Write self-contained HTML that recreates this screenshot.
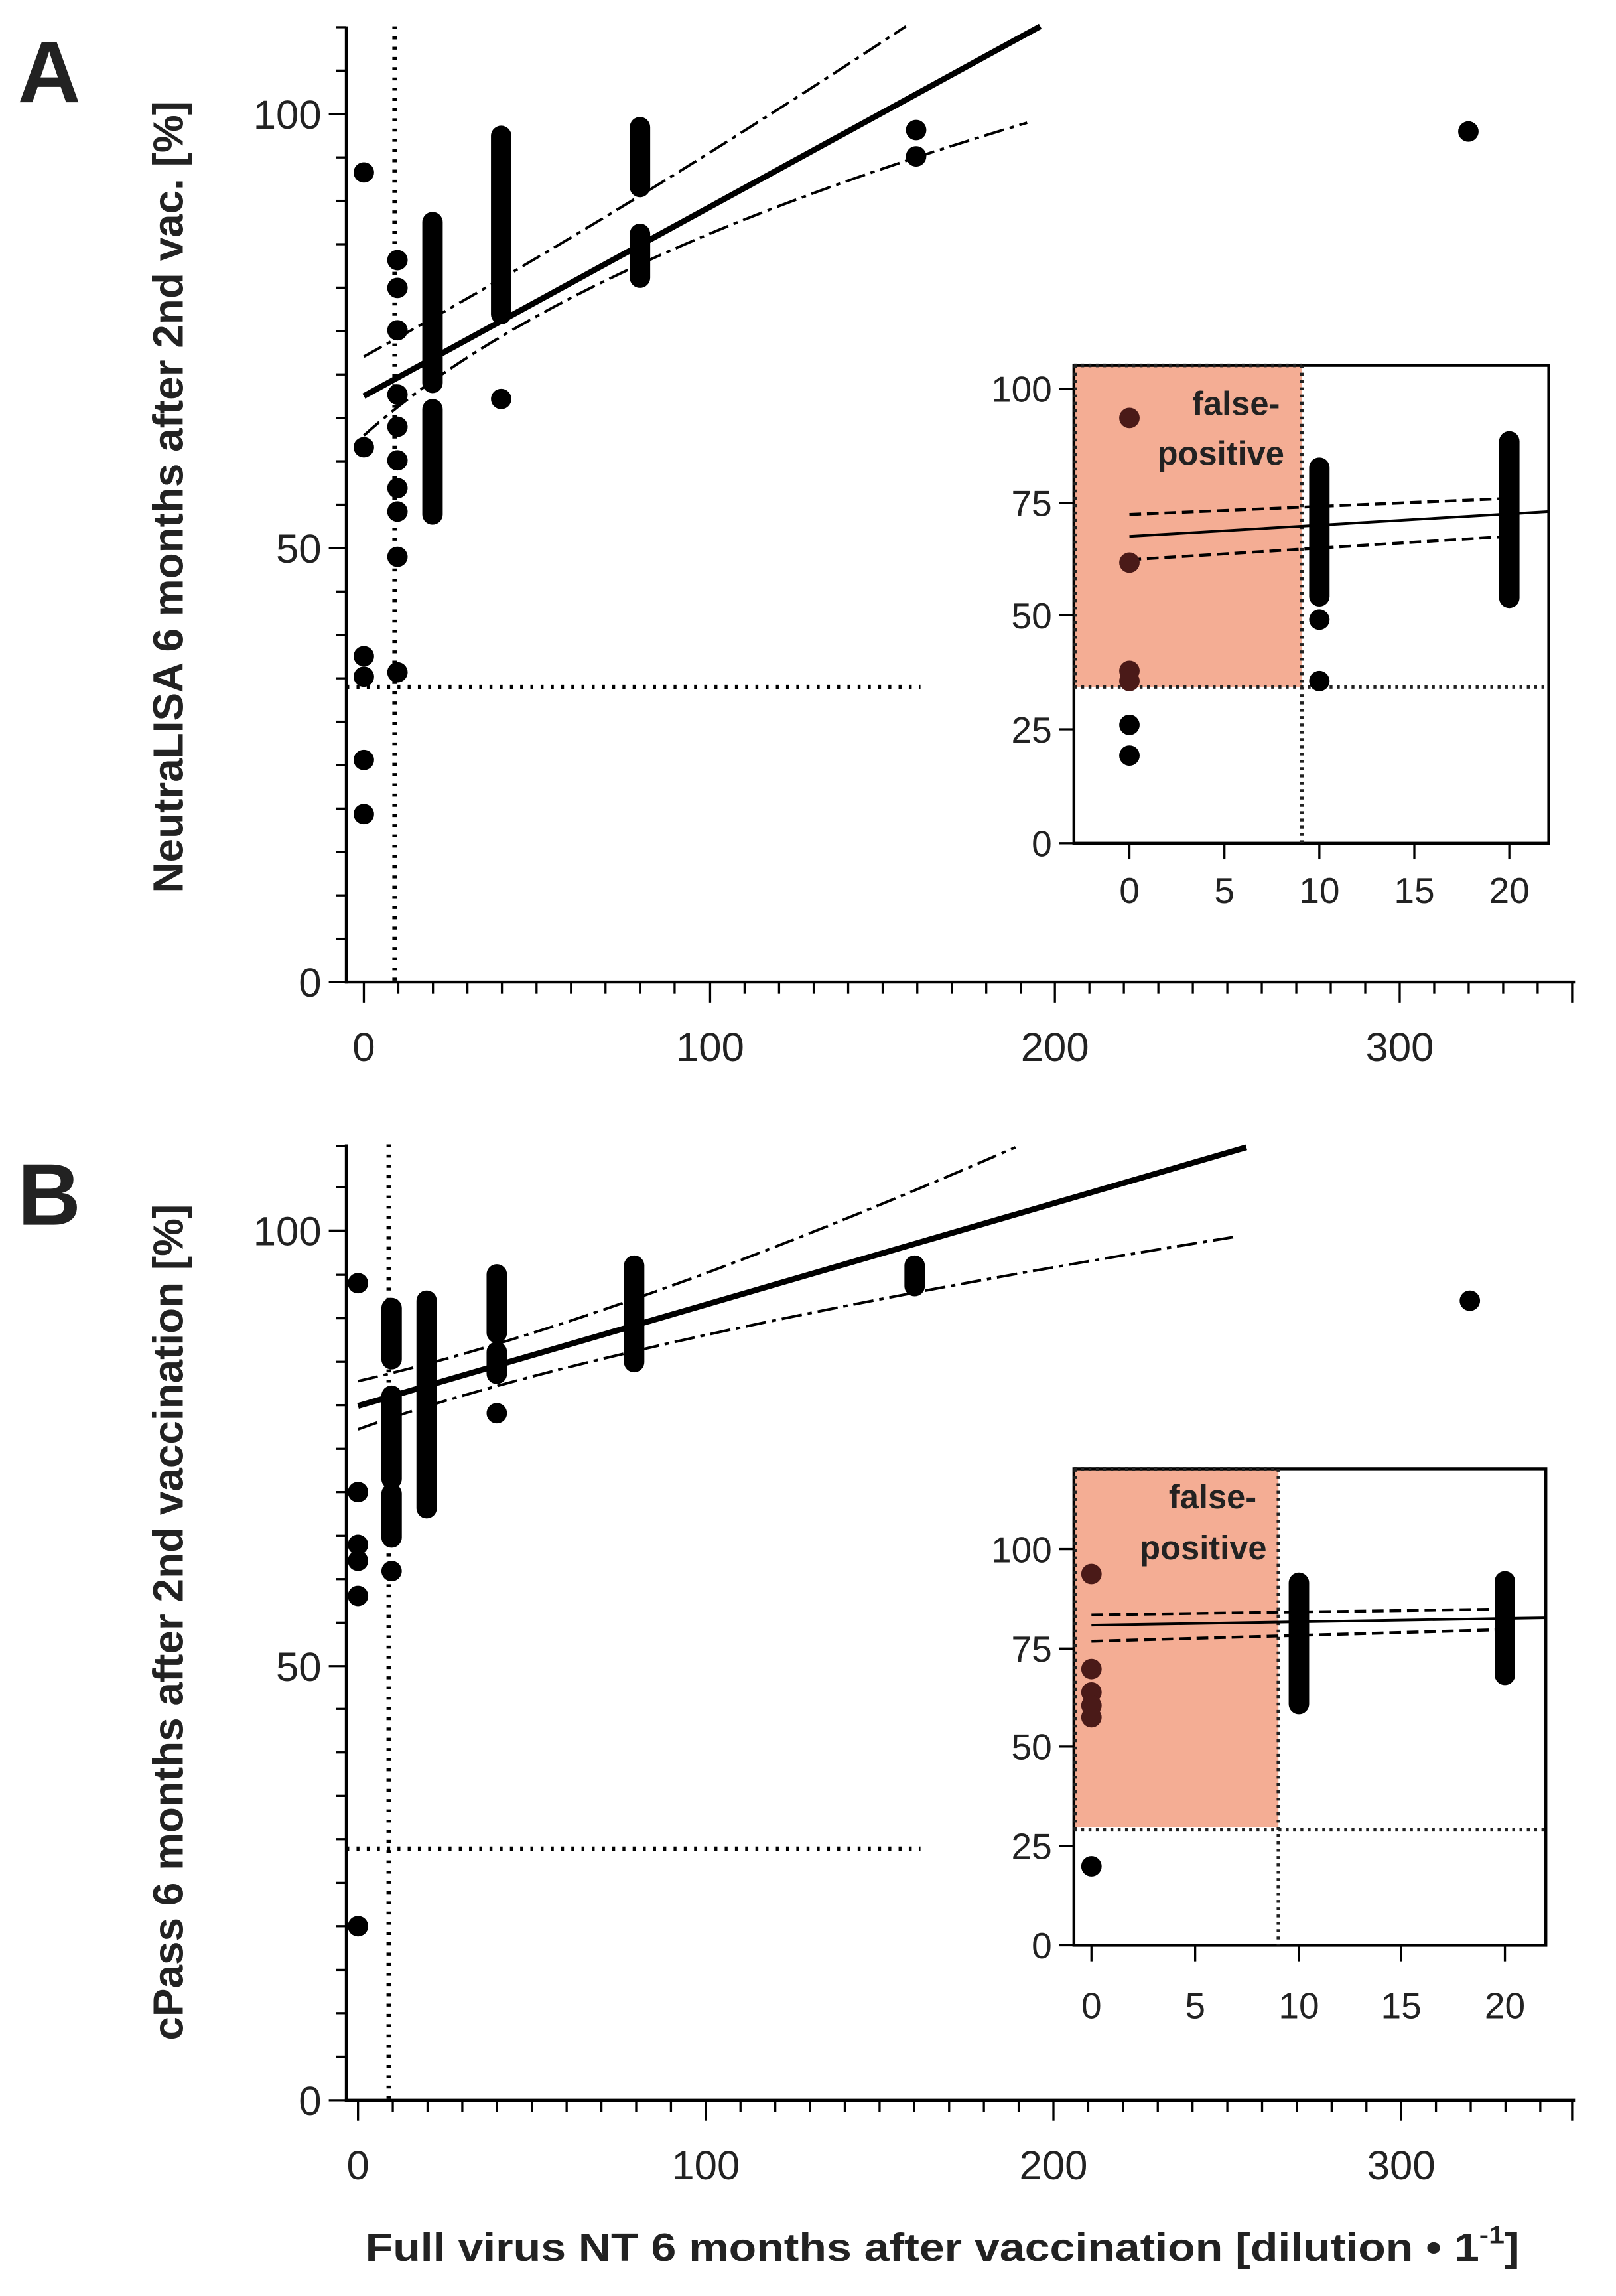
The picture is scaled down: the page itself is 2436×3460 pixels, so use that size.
<!DOCTYPE html>
<html><head><meta charset="utf-8"><style>
html,body{margin:0;padding:0;background:#fff;}
svg{display:block;}
text{font-family:"Liberation Sans",sans-serif;}
</style></head><body>
<svg width="2436" height="3460" viewBox="0 0 1106 1571" xmlns="http://www.w3.org/2000/svg">
<rect width="1106" height="1571" fill="#fff"/>
<!-- ================= PANEL A ================= -->
<text x="12" y="70" font-size="60" font-weight="bold" fill="#222">A</text>
<text transform="translate(125,340) rotate(-90)" text-anchor="middle" font-size="29" font-weight="bold" fill="#222">NeutraLISA 6 months after 2nd vac. [%]</text>
<g stroke="#000" stroke-width="2" fill="none">
<line x1="237" y1="18" x2="237" y2="673"/>
<line x1="236" y1="672" x2="1078" y2="672"/>
</g>
<g stroke="#000" stroke-width="1.5">
<line x1="225" y1="672" x2="237" y2="672"/><line x1="225" y1="375" x2="237" y2="375"/><line x1="225" y1="78" x2="237" y2="78"/>
<line x1="230" y1="642.3" x2="237" y2="642.3"/><line x1="230" y1="612.6" x2="237" y2="612.6"/><line x1="230" y1="582.9" x2="237" y2="582.9"/><line x1="230" y1="553.2" x2="237" y2="553.2"/><line x1="230" y1="523.5" x2="237" y2="523.5"/><line x1="230" y1="493.8" x2="237" y2="493.8"/><line x1="230" y1="464.1" x2="237" y2="464.1"/><line x1="230" y1="434.4" x2="237" y2="434.4"/><line x1="230" y1="404.7" x2="237" y2="404.7"/>
<line x1="230" y1="345.3" x2="237" y2="345.3"/><line x1="230" y1="315.6" x2="237" y2="315.6"/><line x1="230" y1="285.9" x2="237" y2="285.9"/><line x1="230" y1="256.2" x2="237" y2="256.2"/><line x1="230" y1="226.5" x2="237" y2="226.5"/><line x1="230" y1="196.8" x2="237" y2="196.8"/><line x1="230" y1="167.1" x2="237" y2="167.1"/><line x1="230" y1="137.4" x2="237" y2="137.4"/><line x1="230" y1="107.7" x2="237" y2="107.7"/>
<line x1="230" y1="48.3" x2="237" y2="48.3"/><line x1="230" y1="18.6" x2="237" y2="18.6"/>
</g>
<g stroke="#000" stroke-width="1.5">
<line x1="249" y1="672" x2="249" y2="686"/><line x1="486" y1="672" x2="486" y2="686"/><line x1="722" y1="672" x2="722" y2="686"/><line x1="958" y1="672" x2="958" y2="686"/>
<line x1="272.6" y1="672" x2="272.6" y2="680"/><line x1="296.3" y1="672" x2="296.3" y2="680"/><line x1="319.9" y1="672" x2="319.9" y2="680"/><line x1="343.5" y1="672" x2="343.5" y2="680"/><line x1="367.2" y1="672" x2="367.2" y2="680"/><line x1="390.8" y1="672" x2="390.8" y2="680"/><line x1="414.4" y1="672" x2="414.4" y2="680"/><line x1="438" y1="672" x2="438" y2="680"/><line x1="461.7" y1="672" x2="461.7" y2="680"/>
<line x1="509.6" y1="672" x2="509.6" y2="680"/><line x1="533.2" y1="672" x2="533.2" y2="680"/><line x1="556.9" y1="672" x2="556.9" y2="680"/><line x1="580.5" y1="672" x2="580.5" y2="680"/><line x1="604.1" y1="672" x2="604.1" y2="680"/><line x1="627.8" y1="672" x2="627.8" y2="680"/><line x1="651.4" y1="672" x2="651.4" y2="680"/><line x1="675" y1="672" x2="675" y2="680"/><line x1="698.6" y1="672" x2="698.6" y2="680"/>
<line x1="745.6" y1="672" x2="745.6" y2="680"/><line x1="769.2" y1="672" x2="769.2" y2="680"/><line x1="792.8" y1="672" x2="792.8" y2="680"/><line x1="816.4" y1="672" x2="816.4" y2="680"/><line x1="840" y1="672" x2="840" y2="680"/><line x1="863.6" y1="672" x2="863.6" y2="680"/><line x1="887.2" y1="672" x2="887.2" y2="680"/><line x1="910.8" y1="672" x2="910.8" y2="680"/><line x1="934.4" y1="672" x2="934.4" y2="680"/>
<line x1="981.6" y1="672" x2="981.6" y2="680"/><line x1="1005.2" y1="672" x2="1005.2" y2="680"/><line x1="1028.8" y1="672" x2="1028.8" y2="680"/><line x1="1052.4" y1="672" x2="1052.4" y2="680"/><line x1="1076" y1="672" x2="1076" y2="686"/>
</g>
<g font-size="28" fill="#222">
<text x="220" y="88" text-anchor="end">100</text>
<text x="220" y="385" text-anchor="end">50</text>
<text x="220" y="682" text-anchor="end">0</text>
<text x="249" y="726" text-anchor="middle">0</text>
<text x="486" y="726" text-anchor="middle">100</text>
<text x="722" y="726" text-anchor="middle">200</text>
<text x="958" y="726" text-anchor="middle">300</text>
</g>
<g stroke="#000" stroke-width="3" stroke-dasharray="2,5" fill="none">
<line x1="270" y1="18" x2="270" y2="672"/>
<line x1="237" y1="470" x2="630" y2="470"/>
</g>
<line x1="249" y1="271" x2="712" y2="18" stroke="#000" stroke-width="4"/>
<g stroke="#000" stroke-width="1.8" fill="none" stroke-dasharray="14,4,3,4">
<path d="M249 244 Q420 150 620 18"/>
<path d="M249 298 Q380 180 703 84"/>
</g>
<g fill="#000">
<circle cx="249" cy="118" r="7"/><circle cx="249" cy="306" r="7"/><circle cx="249" cy="449" r="7"/><circle cx="249" cy="463" r="7"/><circle cx="249" cy="520" r="7"/><circle cx="249" cy="557" r="7"/>
<circle cx="272" cy="178" r="7"/><circle cx="272" cy="197" r="7"/><circle cx="272" cy="226" r="7"/><circle cx="272" cy="270" r="7"/><circle cx="272" cy="292" r="7"/><circle cx="272" cy="315" r="7"/><circle cx="272" cy="334" r="7"/><circle cx="272" cy="350" r="7"/><circle cx="272" cy="381" r="7"/><circle cx="272" cy="460" r="7"/>
<circle cx="343" cy="273" r="7"/>
<circle cx="627" cy="89" r="7"/><circle cx="627" cy="107" r="7"/>
<circle cx="1005" cy="90" r="7"/>
</g>
<g stroke="#000" stroke-width="14" stroke-linecap="round">
<line x1="296" y1="152" x2="296" y2="262"/><line x1="296" y1="280" x2="296" y2="352"/>
<line x1="343" y1="93" x2="343" y2="215"/>
<line x1="438" y1="87" x2="438" y2="128"/><line x1="438" y1="160" x2="438" y2="190"/>
</g>
<!-- inset A -->
<rect x="735" y="250" width="156" height="220" fill="#f4ad94"/>
<rect x="735" y="250" width="325" height="327" fill="none" stroke="#000" stroke-width="2"/>
<g stroke="#222" stroke-width="2.5" stroke-dasharray="2,3" fill="none">
<line x1="735" y1="250" x2="891" y2="250"/>
<line x1="736" y1="250" x2="736" y2="470"/>
<line x1="891" y1="250" x2="891" y2="577"/>
<line x1="735" y1="470" x2="1060" y2="470"/>
</g>
<g stroke="#000" stroke-width="1.5">
<line x1="725" y1="266" x2="735" y2="266"/><line x1="725" y1="344" x2="735" y2="344"/><line x1="725" y1="421" x2="735" y2="421"/><line x1="725" y1="499" x2="735" y2="499"/><line x1="725" y1="577" x2="735" y2="577"/>
<line x1="773" y1="577" x2="773" y2="588"/><line x1="838" y1="577" x2="838" y2="588"/><line x1="903" y1="577" x2="903" y2="588"/><line x1="968" y1="577" x2="968" y2="588"/><line x1="1033" y1="577" x2="1033" y2="588"/>
</g>
<g font-size="25" fill="#222">
<text x="720" y="275" text-anchor="end">100</text>
<text x="720" y="353" text-anchor="end">75</text>
<text x="720" y="430" text-anchor="end">50</text>
<text x="720" y="508" text-anchor="end">25</text>
<text x="720" y="586" text-anchor="end">0</text>
<text x="773" y="618" text-anchor="middle">0</text>
<text x="838" y="618" text-anchor="middle">5</text>
<text x="903" y="618" text-anchor="middle">10</text>
<text x="968" y="618" text-anchor="middle">15</text>
<text x="1033" y="618" text-anchor="middle">20</text>
</g>
<g font-size="23" font-weight="bold" fill="#222" text-anchor="end">
<text x="876" y="284">false-</text>
<text x="879" y="318">positive</text>
</g>
<line x1="773" y1="367" x2="1060" y2="350" stroke="#000" stroke-width="1.8"/>
<g stroke="#000" stroke-width="2" stroke-dasharray="8,4">
<line x1="773" y1="352" x2="1033" y2="341"/>
<line x1="773" y1="383" x2="1033" y2="367"/>
</g>
<g fill="#4a1a18">
<circle cx="773" cy="286" r="7"/><circle cx="773" cy="385" r="7"/><circle cx="773" cy="459" r="7"/><circle cx="773" cy="466" r="7"/>
</g>
<g fill="#000">
<circle cx="773" cy="496" r="7"/><circle cx="773" cy="517" r="7"/>
<circle cx="903" cy="424" r="7"/><circle cx="903" cy="466" r="7"/>
</g>
<g stroke="#000" stroke-width="14" stroke-linecap="round">
<line x1="903" y1="320" x2="903" y2="408"/>
<line x1="1033" y1="302" x2="1033" y2="409"/>
</g>

<!-- ================= PANEL B ================= -->
<text x="12" y="838" font-size="60" font-weight="bold" fill="#222">B</text>
<text transform="translate(125,1110) rotate(-90)" text-anchor="middle" font-size="29" font-weight="bold" fill="#222">cPass 6 months after 2nd vaccination [%]</text>
<g stroke="#000" stroke-width="2" fill="none">
<line x1="237" y1="783" x2="237" y2="1438"/>
<line x1="236" y1="1437" x2="1078" y2="1437"/>
</g>
<g stroke="#000" stroke-width="1.5">
<line x1="225" y1="1437" x2="237" y2="1437"/><line x1="225" y1="1140" x2="237" y2="1140"/><line x1="225" y1="842" x2="237" y2="842"/>
<line x1="230" y1="1407.3" x2="237" y2="1407.3"/><line x1="230" y1="1377.5" x2="237" y2="1377.5"/><line x1="230" y1="1347.8" x2="237" y2="1347.8"/><line x1="230" y1="1318" x2="237" y2="1318"/><line x1="230" y1="1288.3" x2="237" y2="1288.3"/><line x1="230" y1="1258.5" x2="237" y2="1258.5"/><line x1="230" y1="1228.8" x2="237" y2="1228.8"/><line x1="230" y1="1199" x2="237" y2="1199"/><line x1="230" y1="1169.3" x2="237" y2="1169.3"/>
<line x1="230" y1="1110.3" x2="237" y2="1110.3"/><line x1="230" y1="1080.5" x2="237" y2="1080.5"/><line x1="230" y1="1050.8" x2="237" y2="1050.8"/><line x1="230" y1="1021" x2="237" y2="1021"/><line x1="230" y1="991.3" x2="237" y2="991.3"/><line x1="230" y1="961.5" x2="237" y2="961.5"/><line x1="230" y1="931.8" x2="237" y2="931.8"/><line x1="230" y1="902" x2="237" y2="902"/><line x1="230" y1="872.3" x2="237" y2="872.3"/>
<line x1="230" y1="812.3" x2="237" y2="812.3"/><line x1="230" y1="784" x2="237" y2="784"/>
</g>
<g stroke="#000" stroke-width="1.5">
<line x1="245" y1="1437" x2="245" y2="1451"/><line x1="483" y1="1437" x2="483" y2="1451"/><line x1="721" y1="1437" x2="721" y2="1451"/><line x1="959" y1="1437" x2="959" y2="1451"/>
<line x1="268.8" y1="1437" x2="268.8" y2="1445"/><line x1="292.6" y1="1437" x2="292.6" y2="1445"/><line x1="316.4" y1="1437" x2="316.4" y2="1445"/><line x1="340.2" y1="1437" x2="340.2" y2="1445"/><line x1="364" y1="1437" x2="364" y2="1445"/><line x1="387.8" y1="1437" x2="387.8" y2="1445"/><line x1="411.6" y1="1437" x2="411.6" y2="1445"/><line x1="435.4" y1="1437" x2="435.4" y2="1445"/><line x1="459.2" y1="1437" x2="459.2" y2="1445"/>
<line x1="506.8" y1="1437" x2="506.8" y2="1445"/><line x1="530.6" y1="1437" x2="530.6" y2="1445"/><line x1="554.4" y1="1437" x2="554.4" y2="1445"/><line x1="578.2" y1="1437" x2="578.2" y2="1445"/><line x1="602" y1="1437" x2="602" y2="1445"/><line x1="625.8" y1="1437" x2="625.8" y2="1445"/><line x1="649.6" y1="1437" x2="649.6" y2="1445"/><line x1="673.4" y1="1437" x2="673.4" y2="1445"/><line x1="697.2" y1="1437" x2="697.2" y2="1445"/>
<line x1="744.8" y1="1437" x2="744.8" y2="1445"/><line x1="768.6" y1="1437" x2="768.6" y2="1445"/><line x1="792.4" y1="1437" x2="792.4" y2="1445"/><line x1="816.2" y1="1437" x2="816.2" y2="1445"/><line x1="840" y1="1437" x2="840" y2="1445"/><line x1="863.8" y1="1437" x2="863.8" y2="1445"/><line x1="887.6" y1="1437" x2="887.6" y2="1445"/><line x1="911.4" y1="1437" x2="911.4" y2="1445"/><line x1="935.2" y1="1437" x2="935.2" y2="1445"/>
<line x1="982.8" y1="1437" x2="982.8" y2="1445"/><line x1="1006.6" y1="1437" x2="1006.6" y2="1445"/><line x1="1030.4" y1="1437" x2="1030.4" y2="1445"/><line x1="1054.2" y1="1437" x2="1054.2" y2="1445"/><line x1="1076" y1="1437" x2="1076" y2="1451"/>
</g>
<g font-size="28" fill="#222">
<text x="220" y="852" text-anchor="end">100</text>
<text x="220" y="1150" text-anchor="end">50</text>
<text x="220" y="1447" text-anchor="end">0</text>
<text x="245" y="1491" text-anchor="middle">0</text>
<text x="483" y="1491" text-anchor="middle">100</text>
<text x="721" y="1491" text-anchor="middle">200</text>
<text x="959" y="1491" text-anchor="middle">300</text>
</g>
<text x="250" y="1547" font-size="27" font-weight="bold" fill="#222" textLength="790" lengthAdjust="spacingAndGlyphs">Full virus NT 6 months after vaccination [dilution • 1<tspan font-size="17" dy="-12">-1</tspan><tspan dy="12">]</tspan></text>
<g stroke="#000" stroke-width="3" stroke-dasharray="2,5" fill="none">
<line x1="266" y1="783" x2="266" y2="1437"/>
<line x1="237" y1="1265" x2="630" y2="1265"/>
</g>
<line x1="245" y1="962" x2="853" y2="785" stroke="#000" stroke-width="4"/>
<g stroke="#000" stroke-width="1.8" fill="none" stroke-dasharray="14,4,3,4">
<path d="M245 945 Q420 905 695 785"/>
<path d="M245 978 Q420 915 847 846"/>
</g>
<g fill="#000">
<circle cx="245" cy="878" r="7"/><circle cx="245" cy="1021" r="7"/><circle cx="245" cy="1057" r="7"/><circle cx="245" cy="1068" r="7"/><circle cx="245" cy="1092" r="7"/><circle cx="245" cy="1318" r="7"/>
<circle cx="268" cy="1075" r="7"/>
<circle cx="340" cy="967" r="7"/>
<circle cx="1006" cy="890" r="7"/>
</g>
<g stroke="#000" stroke-width="14" stroke-linecap="round">
<line x1="268" y1="895" x2="268" y2="930"/><line x1="268" y1="955" x2="268" y2="1012"/><line x1="268" y1="1022" x2="268" y2="1052"/>
<line x1="292" y1="890" x2="292" y2="1032"/>
<line x1="340" y1="872" x2="340" y2="912"/><line x1="340" y1="925" x2="340" y2="940"/>
<line x1="434" y1="866" x2="434" y2="932"/>
<line x1="626" y1="866" x2="626" y2="880"/>
</g>
<!-- inset B -->
<rect x="735" y="1005" width="140" height="245" fill="#f4ad94"/>
<rect x="735" y="1005" width="323" height="326" fill="none" stroke="#000" stroke-width="2"/>
<g stroke="#222" stroke-width="2.5" stroke-dasharray="2,3" fill="none">
<line x1="735" y1="1005" x2="875" y2="1005"/>
<line x1="736" y1="1005" x2="736" y2="1252"/>
<line x1="875" y1="1005" x2="875" y2="1331"/>
<line x1="735" y1="1252" x2="1058" y2="1252"/>
</g>
<g stroke="#000" stroke-width="1.5">
<line x1="725" y1="1060" x2="735" y2="1060"/><line x1="725" y1="1128" x2="735" y2="1128"/><line x1="725" y1="1195" x2="735" y2="1195"/><line x1="725" y1="1263" x2="735" y2="1263"/><line x1="725" y1="1331" x2="735" y2="1331"/>
<line x1="747" y1="1331" x2="747" y2="1342"/><line x1="818" y1="1331" x2="818" y2="1342"/><line x1="889" y1="1331" x2="889" y2="1342"/><line x1="959" y1="1331" x2="959" y2="1342"/><line x1="1030" y1="1331" x2="1030" y2="1342"/>
</g>
<g font-size="25" fill="#222">
<text x="720" y="1069" text-anchor="end">100</text>
<text x="720" y="1137" text-anchor="end">75</text>
<text x="720" y="1204" text-anchor="end">50</text>
<text x="720" y="1272" text-anchor="end">25</text>
<text x="720" y="1340" text-anchor="end">0</text>
<text x="747" y="1381" text-anchor="middle">0</text>
<text x="818" y="1381" text-anchor="middle">5</text>
<text x="889" y="1381" text-anchor="middle">10</text>
<text x="959" y="1381" text-anchor="middle">15</text>
<text x="1030" y="1381" text-anchor="middle">20</text>
</g>
<g font-size="23" font-weight="bold" fill="#222" text-anchor="end">
<text x="860" y="1032">false-</text>
<text x="867" y="1067">positive</text>
</g>
<line x1="747" y1="1112" x2="1058" y2="1107" stroke="#000" stroke-width="1.8"/>
<g stroke="#000" stroke-width="2" stroke-dasharray="8,4">
<line x1="747" y1="1105" x2="1030" y2="1101"/>
<line x1="747" y1="1123" x2="1030" y2="1115"/>
</g>
<g fill="#4a1a18">
<circle cx="747" cy="1077" r="7"/><circle cx="747" cy="1142" r="7"/><circle cx="747" cy="1158" r="7"/><circle cx="747" cy="1167" r="7"/><circle cx="747" cy="1175" r="7"/>
</g>
<circle cx="747" cy="1277" r="7" fill="#000"/>
<g stroke="#000" stroke-width="14" stroke-linecap="round">
<line x1="889" y1="1083" x2="889" y2="1166"/>
<line x1="1030" y1="1082" x2="1030" y2="1146"/>
</g>
</svg>
</body></html>
